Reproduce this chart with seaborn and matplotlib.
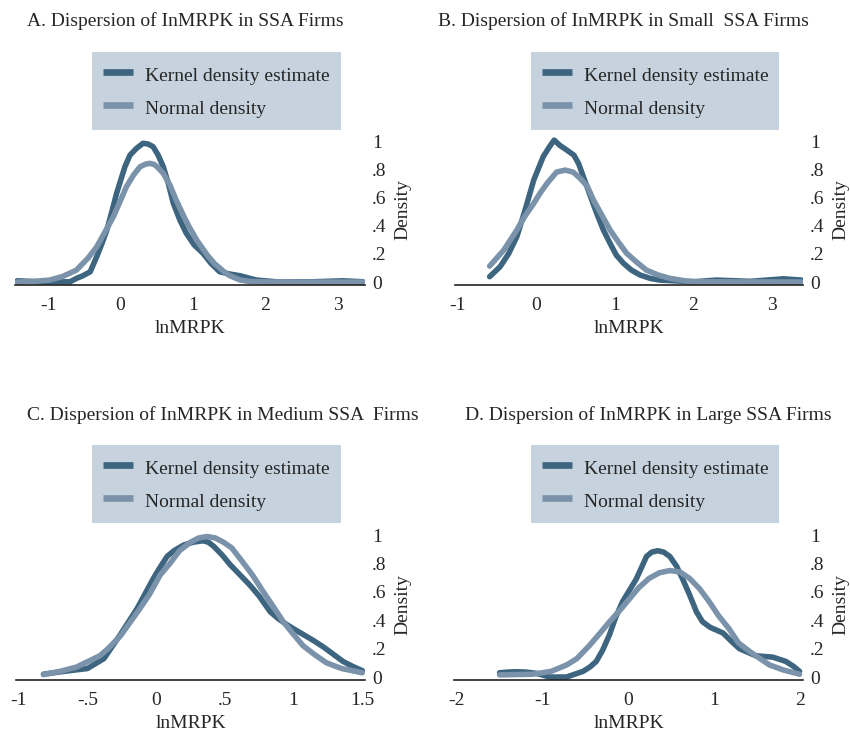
"""Dispersion of lnMRPK in SSA firms: kernel density vs normal density, four panels."""

import matplotlib
matplotlib.use('Agg')
import matplotlib.pyplot as plt
import pandas as pd
import seaborn as sns

# ── DATA ──────────────────────────────────────────────────────────────────────

TITLES = [
    'A. Dispersion of InMRPK in SSA Firms',
    'B. Dispersion of InMRPK in Small  SSA Firms',
    'C. Dispersion of InMRPK in Medium SSA  Firms',
    'D. Dispersion of InMRPK in Large SSA Firms',
]
SERIES = ['Kernel density estimate', 'Normal density']

# Panel A - all firms
A_KDE_X = [-1.43, -1.07, -0.70, -0.61, -0.52, -0.42, -0.33, -0.26, -0.19,
           -0.12, -0.055, 0.06, 0.13, 0.22, 0.31, 0.38, 0.45, 0.52, 0.59,
           0.66, 0.73, 0.82, 0.91, 1.02, 1.14, 1.25, 1.37, 1.51, 1.65, 1.88,
           2.20, 2.66, 3.07, 3.35]
A_KDE_Y = [0.009, 0.0, 0.002, 0.026, 0.045, 0.073, 0.18, 0.27, 0.369,
           0.50, 0.629, 0.818, 0.90, 0.948, 0.984, 0.979, 0.96, 0.90, 0.818,
           0.70, 0.558, 0.44, 0.345, 0.262, 0.204, 0.133, 0.073, 0.057, 0.045,
           0.014, 0.0, 0.002, 0.009, 0.002]
A_NORM_X = [-1.43, -1.20, -0.98, -0.80, -0.61, -0.45, -0.33, -0.20, -0.10,
            0.0, 0.08, 0.18, 0.27, 0.34, 0.40, 0.46, 0.50, 0.59, 0.68, 0.77,
            0.88, 0.95, 1.05, 1.20, 1.30, 1.45, 1.51, 1.65, 1.78, 1.90, 2.20,
            3.35]
A_NORM_Y = [0.0, 0.005, 0.014, 0.04, 0.085, 0.17, 0.25, 0.37, 0.463,
            0.58, 0.676, 0.76, 0.818, 0.835, 0.842, 0.835, 0.82, 0.771, 0.69,
            0.58, 0.46, 0.39, 0.30, 0.19, 0.13, 0.065, 0.045, 0.015, 0.004,
            0.002, 0.0, 0.0]

# Panel B - small firms
B_KDE_X = [-0.59, -0.457, -0.35, -0.245, -0.14, -0.03, 0.09, 0.17, 0.23,
           0.30, 0.39, 0.48, 0.54, 0.60, 0.685, 0.77, 0.855, 0.94, 1.02,
           1.11, 1.21, 1.32, 1.45, 1.57, 2.00, 2.29, 2.72, 3.14, 3.37]
B_KDE_Y = [0.038, 0.109, 0.20, 0.321, 0.51, 0.723, 0.889, 0.96, 1.007,
           0.97, 0.936, 0.90, 0.84, 0.747, 0.617, 0.487, 0.369, 0.274, 0.19,
           0.133, 0.085, 0.05, 0.026, 0.014, 0.002, 0.014, 0.005, 0.023, 0.014]
B_NORM_X = [-0.59, -0.50, -0.41, -0.245, -0.15, -0.03, 0.05, 0.14, 0.26,
            0.37, 0.47, 0.56, 0.65, 0.73, 0.84, 0.94, 1.00, 1.05, 1.15, 1.28,
            1.40, 1.55, 1.70, 1.90, 2.05, 3.37]
B_NORM_Y = [0.113, 0.17, 0.227, 0.369, 0.46, 0.558, 0.63, 0.70, 0.78,
            0.794, 0.78, 0.735, 0.68, 0.58, 0.47, 0.369, 0.32, 0.28, 0.204,
            0.14, 0.085, 0.05, 0.026, 0.008, 0.002, 0.0]

# Panel C - medium firms
C_KDE_X = [-0.82, -0.67, -0.50, -0.38, -0.26, -0.20, -0.14, -0.02, 0.02,
           0.08, 0.13, 0.20, 0.27, 0.34, 0.38, 0.42, 0.48, 0.54, 0.61, 0.68,
           0.75, 0.83, 0.89, 0.95, 1.00, 1.07, 1.14, 1.22, 1.29, 1.36, 1.43,
           1.50]
C_KDE_Y = [0.02, 0.04, 0.06, 0.13, 0.30, 0.39, 0.48, 0.695, 0.76,
           0.85, 0.89, 0.93, 0.95, 0.96, 0.95, 0.92, 0.86, 0.79, 0.72, 0.65,
           0.57, 0.46, 0.41, 0.37, 0.34, 0.30, 0.26, 0.21, 0.16, 0.11, 0.075,
           0.045]
C_NORM_X = [-0.82, -0.70, -0.58, -0.41, -0.35, -0.26, -0.12, -0.05, 0.03,
            0.10, 0.17, 0.25, 0.31, 0.37, 0.43, 0.49, 0.55, 0.63, 0.70, 0.78,
            0.85, 0.925, 1.00, 1.07, 1.15, 1.24, 1.35, 1.50]
C_NORM_Y = [0.017, 0.04, 0.07, 0.15, 0.20, 0.29, 0.48, 0.58, 0.72,
            0.80, 0.89, 0.95, 0.98, 0.99, 0.98, 0.95, 0.91, 0.81, 0.72, 0.60,
            0.50, 0.39, 0.30, 0.22, 0.16, 0.10, 0.06, 0.03]

# Panel D - large firms
D_KDE_X = [-1.50, -1.40, -1.31, -1.20, -1.07, -0.92, -0.72, -0.53, -0.45,
           -0.375, -0.30, -0.22, -0.15, -0.07, 0.0, 0.09, 0.15, 0.21, 0.27,
           0.34, 0.41, 0.48, 0.56, 0.63, 0.71, 0.79, 0.86, 0.95, 1.10, 1.20,
           1.29, 1.48, 1.58, 1.68, 1.83, 1.92, 1.99]
D_KDE_Y = [0.03, 0.035, 0.037, 0.035, 0.026, 0.0, 0.0, 0.04, 0.07,
           0.11, 0.19, 0.30, 0.42, 0.53, 0.60, 0.69, 0.77, 0.85, 0.88,
           0.89, 0.88, 0.85, 0.78, 0.69, 0.58, 0.46, 0.39, 0.35, 0.31, 0.25,
           0.20, 0.15, 0.145, 0.14, 0.11, 0.075, 0.04]
D_NORM_X = [-1.50, -1.11, -0.90, -0.72, -0.60, -0.45, -0.33, -0.22, -0.10,
            0.01, 0.12, 0.24, 0.36, 0.48, 0.60, 0.71, 0.83, 0.94, 1.05, 1.17,
            1.28, 1.41, 1.53, 1.64, 1.80, 1.99]
D_NORM_Y = [0.015, 0.02, 0.04, 0.085, 0.13, 0.225, 0.31, 0.39, 0.47,
            0.55, 0.63, 0.695, 0.735, 0.75, 0.74, 0.695, 0.62, 0.53, 0.43,
            0.34, 0.24, 0.18, 0.13, 0.085, 0.05, 0.02]

A_XTICKS = [-1, 0, 1, 2, 3]
B_XTICKS = [-1, 0, 1, 2, 3]
C_XTICKS = [-1, -0.5, 0, 0.5, 1, 1.5]
D_XTICKS = [-2, -1, 0, 1, 2]
A_XLABELS = ['-1', '0', '1', '2', '3']
B_XLABELS = ['-1', '0', '1', '2', '3']
C_XLABELS = ['-1', '-.5', '0', '.5', '1', '1.5']
D_XLABELS = ['-2', '-1', '0', '1', '2']
Y_TICKS = [0, 0.2, 0.4, 0.6, 0.8, 1]
Y_LABELS = ['0', '.2', '.4', '.6', '.8', '1']

# ── STYLE ─────────────────────────────────────────────────────────────────────

DARK = '#3d6580'
LIGHT = '#7b93aa'
BOX = '#c6d3df'
FS = 14

sns.set_style('white')
plt.rcParams['font.family'] = ['Liberation Serif', 'DejaVu Serif']
plt.rcParams['font.size'] = FS


def panel_frame(kx, ky, nx, ny):
    """Long-format frame with both curves of one panel."""
    kde = pd.DataFrame({'lnMRPK': kx, 'Density': ky, 'series': SERIES[0]})
    nrm = pd.DataFrame({'lnMRPK': nx, 'Density': ny, 'series': SERIES[1]})
    return pd.concat([kde, nrm], ignore_index=True)


def draw_panel(fig, rect, df, xlim, xticks, xlabels, title, title_xy, legend_xy):
    ax = fig.add_axes(rect)
    sns.lineplot(data=df, x='lnMRPK', y='Density', hue='series',
                 hue_order=SERIES, palette=[DARK, LIGHT], estimator=None,
                 errorbar=None, lw=4.0, ax=ax,
                 solid_capstyle='round', solid_joinstyle='round')

    ax.set_xlim(*xlim)
    ax.set_ylim(-0.023, 1.05)
    ax.set_xticks(xticks)
    ax.set_xticklabels(xlabels)
    ax.set_yticks(Y_TICKS)
    ax.set_yticklabels(Y_LABELS)

    # y axis on the right, labels only
    ax.yaxis.tick_right()
    ax.yaxis.set_label_position('right')
    ax.tick_params(axis='y', length=0, pad=5, labelsize=FS)
    ax.tick_params(axis='x', direction='in', length=6, width=1.1,
                   color='#222222', pad=8.5, labelsize=FS)
    for side in ['top', 'left', 'right']:
        ax.spines[side].set_visible(False)
    ax.spines['bottom'].set_linewidth(1.2)
    ax.spines['bottom'].set_color('#222222')

    ax.set_xlabel('lnMRPK', fontsize=FS, labelpad=4.5)
    ax.set_ylabel('Density', fontsize=FS, labelpad=5.5)

    # rebuild legend as the shaded key box above the plot
    old = ax.get_legend()
    handles = old.legend_handles
    labels = [t.get_text() for t in old.get_texts()]
    for h in handles:
        h.set_linewidth(4.8)
        h.set_solid_capstyle('butt')
    leg = ax.legend(handles, labels, loc='center', bbox_to_anchor=legend_xy,
                    bbox_transform=fig.transFigure, frameon=True,
                    fancybox=False, framealpha=1, facecolor=BOX,
                    edgecolor=BOX, fontsize=FS, borderpad=0.55,
                    labelspacing=0.57, handleheight=1.4, handlelength=1.55,
                    handletextpad=0.62, borderaxespad=0)
    leg.get_frame().set_linewidth(0)

    fig.text(title_xy[0], title_xy[1], title, fontsize=FS, ha='left',
             va='baseline')
    return ax


# ── FIGURE ────────────────────────────────────────────────────────────────────

W, H = 850, 735
fig = plt.figure(figsize=(W / 100, H / 100), dpi=100)
fig.patch.set_facecolor('white')


def px_rect(left, right, top, bottom):
    return [left / W, (H - bottom) / H, (right - left) / W, (bottom - top) / H]


draw_panel(fig, px_rect(15, 365, 134, 285.3),
           panel_frame(A_KDE_X, A_KDE_Y, A_NORM_X, A_NORM_Y),
           (-1.46, 3.38), A_XTICKS, A_XLABELS, TITLES[0],
           (27 / W, (H - 26) / H), (216.5 / W, (H - 91) / H))
draw_panel(fig, px_rect(455, 803, 134, 285.3),
           panel_frame(B_KDE_X, B_KDE_Y, B_NORM_X, B_NORM_Y),
           (-1.03, 3.39), B_XTICKS, B_XLABELS, TITLES[1],
           (438 / W, (H - 26) / H), (655 / W, (H - 91) / H))
draw_panel(fig, px_rect(16, 365, 528, 680.3),
           panel_frame(C_KDE_X, C_KDE_Y, C_NORM_X, C_NORM_Y),
           (-1.02, 1.52), C_XTICKS, C_XLABELS, TITLES[2],
           (27 / W, (H - 420) / H), (216.5 / W, (H - 484) / H))
draw_panel(fig, px_rect(454, 803, 528, 680.3),
           panel_frame(D_KDE_X, D_KDE_Y, D_NORM_X, D_NORM_Y),
           (-2.03, 2.03), D_XTICKS, D_XLABELS, TITLES[3],
           (465 / W, (H - 420) / H), (655 / W, (H - 484) / H))

fig.savefig('out.png', dpi=100, facecolor='white')
